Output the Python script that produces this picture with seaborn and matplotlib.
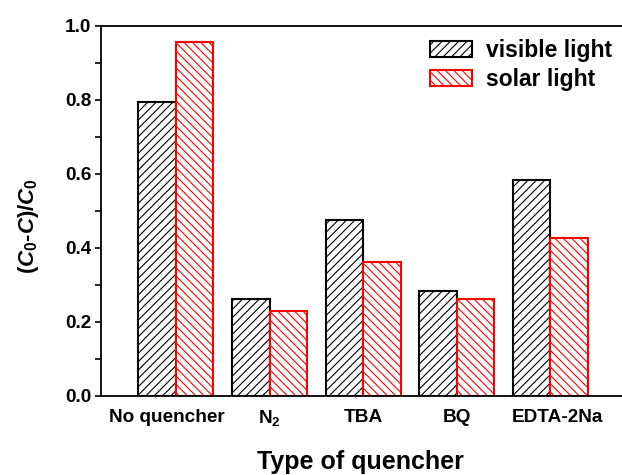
import numpy as np
import pandas as pd
import matplotlib
matplotlib.use("Agg")
import matplotlib.pyplot as plt
import matplotlib.transforms as mtransforms
import seaborn as sns
from matplotlib.patches import Patch
from matplotlib.ticker import MultipleLocator, FormatStrFormatter

# Quencher categories and measured removal ratios
quenchers = ["No quencher", r"$\mathrm{N}_\mathrm{2}$", "TBA", "BQ", "EDTA-2Na"]
visible_light = [0.795, 0.261, 0.475, 0.285, 0.583]
solar_light = [0.957, 0.231, 0.363, 0.263, 0.427]
series_names = ["visible light", "solar light"]

df = pd.DataFrame({
    "quencher": quenchers * 2,
    "value": visible_light + solar_light,
    "light": [series_names[0]] * len(quenchers) + [series_names[1]] * len(quenchers),
})

sns.set_theme(style="white")
plt.rcParams["font.family"] = ["Liberation Sans", "DejaVu Sans"]
plt.rcParams["font.weight"] = "bold"
plt.rcParams["text.color"] = "black"
plt.rcParams["axes.labelcolor"] = "black"
plt.rcParams["mathtext.fontset"] = "custom"
plt.rcParams["mathtext.rm"] = "Liberation Sans:bold"
plt.rcParams["mathtext.it"] = "Liberation Sans:italic:bold"
plt.rcParams["mathtext.bf"] = "Liberation Sans:bold"
plt.rcParams["hatch.linewidth"] = 0.8

fig = plt.figure(figsize=(6.22, 4.75), dpi=100)
ax = fig.add_axes([101 / 622, 79 / 475, (630 - 101) / 622, 370 / 475])

sns.barplot(data=df, x="quencher", y="value", hue="light", order=quenchers,
            hue_order=series_names, width=0.8, ax=ax, legend=False,
            palette=["white", "white"], saturation=1)

styles = [("black", "////"), ("red", "\\\\\\\\")]
for container, (ec, hatch) in zip(ax.containers, styles):
    for bar in container:
        bar.set_facecolor("white")
        bar.set_edgecolor(ec)
        bar.set_hatch(hatch)
        bar.set_linewidth(1.5)

ax.set_xlim(-0.8, 4.85)
ax.set_ylim(0, 1.0)
ax.yaxis.set_major_locator(MultipleLocator(0.2))
ax.yaxis.set_minor_locator(MultipleLocator(0.1))
ax.yaxis.set_major_formatter(FormatStrFormatter("%.1f"))
ax.tick_params(axis="y", which="both", direction="out", left=True, length=4,
               width=1.2, labelsize=13.7, pad=3, colors="black")
ax.tick_params(axis="x", length=0, labelsize=13.7, pad=9, colors="black")
for lbl in ax.get_xticklabels() + ax.get_yticklabels():
    lbl.set_fontweight("bold")

# nudge the two long category labels outward
xlabels = ax.get_xticklabels()
for i, dx in [(0, -9), (4, 7)]:
    xlabels[i].set_transform(xlabels[i].get_transform() +
                             mtransforms.ScaledTranslation(dx / 100, 0, fig.dpi_scale_trans))

for side in ["left", "top", "bottom"]:
    ax.spines[side].set_color("black")
    ax.spines[side].set_linewidth(1.3)
ax.spines["right"].set_visible(False)

ax.set_xlabel("Type of quencher", fontsize=18, fontweight="bold", color="black")
ax.xaxis.set_label_coords((360 - 101) / 529, (396 - 450) / 370)
ax.set_ylabel("$\\mathrm{(}C_\\mathrm{0}\\mathrm{\u2010}C\\mathrm{)/}C_\\mathrm{0}$",
              fontsize=16, color="black")
ax.yaxis.set_label_coords((41 - 101) / 529, (396 - 226) / 370)

handles = [Patch(facecolor="white", edgecolor=ec, hatch=h, linewidth=1.5, label=n)
           for (ec, h), n in zip(styles, series_names)]
ax.legend(handles=handles, loc="upper left", bbox_to_anchor=(0.622, 0.965),
          frameon=False, prop={"weight": "bold", "size": 16.5},
          borderpad=0, borderaxespad=0,
          handlelength=1.83, handleheight=0.7, handletextpad=0.6, labelspacing=0.25)

fig.savefig("out.png", dpi=100)
